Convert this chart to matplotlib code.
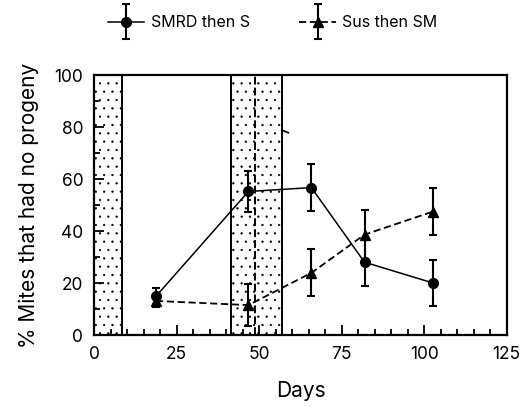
import matplotlib
matplotlib.use("Agg")
import matplotlib.pyplot as plt
from matplotlib.container import ErrorbarContainer
from matplotlib.legend_handler import HandlerErrorbar

plt.rcParams["font.family"] = ["Inter", "DejaVu Sans"]
plt.rcParams["hatch.linewidth"] = 0.4

# data
days = [18.7, 46.7, 65.8, 81.9, 102.7]
smrd_then_s = [14.9, 55.2, 56.7, 28.0, 20.0]
smrd_err = [3.0, 8.0, 9.0, 9.0, 9.0]
sus_then_sm = [13.1, 11.5, 23.9, 38.6, 47.5]
sus_err = [2.5, 8.0, 9.0, 9.5, 9.0]

# treatment periods (dotted bands) and the dashed marker line
bands = [(0, 8.3), (41.4, 56.8)]
dashed_day = 48.6

fig = plt.figure(figsize=(5.28, 4.07), dpi=100)
ax = fig.add_axes([0.1786, 0.1769, 0.7811, 0.6388])

for x0, x1 in bands:
    ax.axvspan(x0, x1, facecolor="white", edgecolor="black", hatch="..",
               linewidth=1.4, zorder=1)
ax.axvline(dashed_day, color="black", linestyle=(0, (4, 1.6)), linewidth=1.4, zorder=2)
# stray little mark next to the second band
ax.plot([56.8, 58.8], [78.8, 77.8], color="black", linewidth=1.2, zorder=2)

ax.errorbar(days, smrd_then_s, yerr=smrd_err, color="black", marker="o",
            markersize=7, linewidth=1.1, elinewidth=1.5, capsize=3,
            capthick=1.5, label="SMRD then S", zorder=4)
ax.errorbar(days, sus_then_sm, yerr=sus_err, color="black", marker="^",
            markersize=7, linewidth=1.3, linestyle=(0, (4, 2)), elinewidth=1.5,
            capsize=3, capthick=1.5, label="Sus then SM", zorder=3)

ax.set_xlim(0, 125)
ax.set_ylim(0, 100)
ax.set_xticks([0, 25, 50, 75, 100, 125])
ax.set_xticks(range(0, 126, 5), minor=True)
ax.set_yticks(range(0, 101, 20))
ax.set_yticks(range(0, 101, 10), minor=True)
ax.tick_params(which="both", direction="in", top=False, right=False,
               width=1.3, labelsize=12.5, pad=8)
ax.tick_params(which="major", length=7)
ax.tick_params(which="minor", length=4)
for s in ax.spines.values():
    s.set_linewidth(1.6)

ax.set_xlabel("Days", fontsize=15, labelpad=13)
ax.set_ylabel("% Mites that had no progeny", fontsize=15, labelpad=11)

ax.legend(loc="center", bbox_to_anchor=(0.516, 0.9435), bbox_transform=fig.transFigure,
          ncol=2, frameon=False, fontsize=11.5, handlelength=2.3, columnspacing=3.1,
          handletextpad=0.4,
          handler_map={ErrorbarContainer: HandlerErrorbar(yerr_size=1.1)})

plt.savefig("out.png", dpi=100)
plt.close(fig)
